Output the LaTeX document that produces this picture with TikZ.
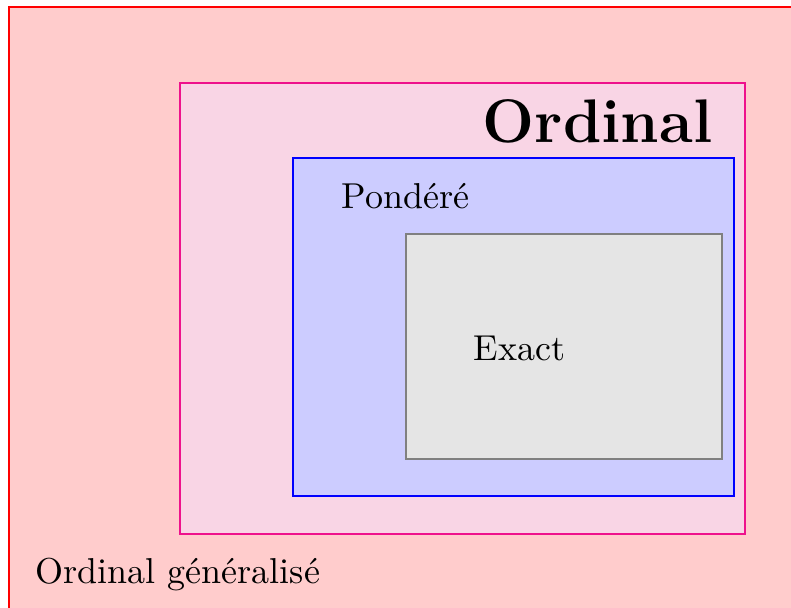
\documentclass[tikz,border=0pt]{standalone}
\usepackage{tikz}
\usetikzlibrary{positioning}

\definecolor{ordline}{RGB}{238,18,140}
\definecolor{ordfill}{RGB}{249,213,229}

\begin{document}
\begin{tikzpicture}[
    x=0.2778pt,
    y=-0.2778pt,
    box/.style={
        draw,
        line width=0.55pt,
        inner sep=0pt
    },
    label/.style={
        anchor=base west,
        inner sep=0pt
    }
]

\useasboundingbox (0,0) rectangle (791,607);

% nested sets
\node[box, draw=red, fill=red!20, minimum width=219.7pt, minimum height=168.9pt] (general) at (404.5,311) {};
\node[box, draw=ordline, fill=ordfill, minimum width=156.9pt, minimum height=125.3pt] (ordinal) at (462.5,308.5) {};
\node[box, draw=blue, fill=blue!20, minimum width=122.5pt, minimum height=93.9pt] (pondere) at (513.5,327) {};
\node[box, draw=gray, fill=gray!20, minimum width=87.8pt, minimum height=62.5pt] (exact) at (564,346.5) {};

% names
\node[label, anchor=base east, font=\bfseries\fontsize{17.1}{20}\selectfont] (ordinallbl) at (713,142) {Ordinal};
\node[label] (ponderelbl) at (341,208) {Pondéré};
\node[label] (exactlbl) at (473,360) {Exact};
\node[label] (generallbl) at (35,583) {Ordinal généralisé};

\end{tikzpicture}
\end{document}
